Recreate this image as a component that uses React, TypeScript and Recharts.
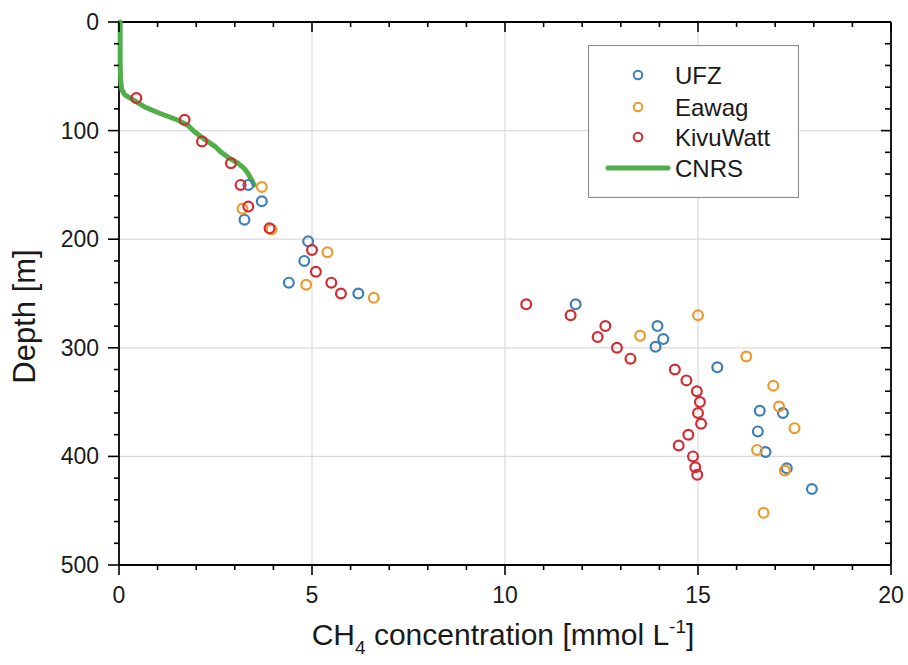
import React from 'react';
import { ScatterChart, Scatter, XAxis, YAxis, CartesianGrid, Legend } from 'recharts';

const FONT = '"Liberation Sans", Arial, sans-serif';

const seriesNames = ['UFZ', 'Eawag', 'KivuWatt', 'CNRS'];
const seriesColors = ['#3d7fb9', '#ec9a2e', '#d22b33', '#52ae4b'];

// UFZ profile
const ufzConc = [3.35, 3.7, 3.25, 4.9, 4.8, 4.4, 6.2, 11.83, 13.95, 14.1, 13.9, 15.5, 16.6, 17.2, 16.55, 16.75, 17.3, 17.95];
const ufzDepth = [150, 165, 182, 202, 220, 240, 250, 260, 280, 292, 299, 318, 358, 360, 377, 396, 411, 430];

// Eawag profile
const eawagConc = [3.7, 3.2, 3.95, 5.4, 4.85, 6.6, 15.0, 13.5, 16.25, 16.95, 17.1, 17.5, 16.53, 17.25, 16.7];
const eawagDepth = [152, 172, 191, 212, 242, 254, 270, 289, 308, 335, 354, 374, 394, 413, 452];

// KivuWatt profile
const kwConc = [0.45, 1.7, 2.15, 2.9, 3.15, 3.35, 3.9, 5.0, 5.1, 5.5, 5.75, 10.55, 11.7, 12.6, 12.4, 12.9, 13.25, 14.4, 14.7, 14.97, 15.05, 15.0, 15.08, 14.75, 14.5, 14.87, 14.93, 14.98];
const kwDepth = [70, 90, 110, 130, 150, 170, 190, 210, 230, 240, 250, 260, 270, 280, 290, 300, 310, 320, 330, 340, 350, 360, 370, 380, 390, 400, 410, 417];

// CNRS continuous profile
const cnrsConc = [0.03, 0.03, 0.03, 0.03, 0.03, 0.04, 0.05, 0.06, 0.08, 0.15, 0.38, 0.65, 1.05, 1.5, 1.78, 1.92, 2.1, 2.3, 2.5, 2.65, 2.84, 3.08, 3.25, 3.35, 3.43, 3.5];
const cnrsDepth = [0, 10, 20, 30, 40, 50, 55, 60, 63, 67, 72, 78, 84, 90, 95, 100, 105, 110, 115, 120, 125, 130, 135, 140, 145, 150];

const xTicks = Array.from({ length: 21 }, (_, i) => i);
const yTicks = Array.from({ length: 26 }, (_, i) => i * 20);

const zip = (xs: number[], ys: number[]) => xs.map((x, i) => ({ x, y: ys[i] }));

const ufzData = zip(ufzConc, ufzDepth);
const eawagData = zip(eawagConc, eawagDepth);
const kwData = zip(kwConc, kwDepth);
const cnrsData = zip(cnrsConc, cnrsDepth);

const ringShape = (color: string) => (props: any) => (
    <circle cx={props.cx} cy={props.cy} r={4.9} fill="none" stroke={color} strokeWidth={2.2} />
);

const tickFont = { fontFamily: FONT, fontSize: 23, fill: '#1a1a1a' };

// ticks are drawn by hand: tickSize/tickMargin are 0, so x/y sit on the axis line
const BottomTick = (props: any) => {
    const { x, y, payload } = props;
    const major = payload.value % 5 === 0;
    return (
        <g>
            <line x1={x} x2={x} y1={y} y2={y + (major ? 10 : 5)} stroke="#000" strokeWidth={1.6} />
            {major && (
                <text x={x} y={y + 30} textAnchor="middle" dominantBaseline="central" {...tickFont}>
                    {payload.value}
                </text>
            )}
        </g>
    );
};

const TopTick = (props: any) => {
    const { x, y, payload } = props;
    const major = payload.value % 5 === 0;
    return <line x1={x} x2={x} y1={y} y2={y + (major ? 10 : 5)} stroke="#000" strokeWidth={1.6} />;
};

const LeftTick = (props: any) => {
    const { x, y, payload } = props;
    const major = payload.value % 100 === 0;
    return (
        <g>
            <line x1={x - (major ? 11 : 5)} x2={x} y1={y} y2={y} stroke="#000" strokeWidth={1.6} />
            {major && (
                <text x={x - 20} y={y} textAnchor="end" dominantBaseline="central" {...tickFont}>
                    {payload.value}
                </text>
            )}
        </g>
    );
};

const RightTick = (props: any) => {
    const { x, y, payload } = props;
    const major = payload.value % 100 === 0;
    return <line x1={x - (major ? 10 : 6)} x2={x} y1={y} y2={y} stroke="#000" strokeWidth={1.6} />;
};

const XTitle = (props: any) => {
    const vb = props.viewBox;
    const cx = vb.x + vb.width / 2 - 2;
    const y = vb.y + 80;
    return (
        <text x={cx} y={y} textAnchor="middle" fontFamily={FONT} fontSize={30} fill="#1a1a1a">
            CH
            <tspan fontSize={19} dy={9}>4</tspan>
            <tspan dy={-9}> concentration [mmol L</tspan>
            <tspan fontSize={19} dy={-12}>-1</tspan>
            <tspan dy={12}>]</tspan>
        </text>
    );
};

const YTitle = (props: any) => {
    const vb = props.viewBox;
    const x = vb.x + 35;
    const y = vb.y + vb.height / 2 + 23;
    return (
        <text x={x} y={y} transform={`rotate(-90, ${x}, ${y})`} textAnchor="middle" fontFamily={FONT} fontSize={31} fill="#1a1a1a">
            Depth [m]
        </text>
    );
};

const renderLegend = () => {
    const rows = [30, 62, 92, 123];
    return (
        <svg width={211} height={153} style={{ display: 'block' }}>
            <rect x={0.5} y={0.5} width={210} height={152} fill="#fff" stroke="#8c8c8c" strokeWidth={1.2} />
            {seriesNames.map((name, i) => (
                <g key={name}>
                    {name === 'CNRS' ? (
                        <line x1={20} x2={80} y1={rows[i]} y2={rows[i]} stroke={seriesColors[i]} strokeWidth={5} strokeLinecap="round" />
                    ) : (
                        <circle cx={50} cy={rows[i]} r={4.3} fill="none" stroke={seriesColors[i]} strokeWidth={2} />
                    )}
                    <text x={87} y={rows[i]} dominantBaseline="central" fontFamily={FONT} fontSize={24} fill="#1a1a1a">
                        {name}
                    </text>
                </g>
            ))}
        </svg>
    );
};

export default function App() {
    return (
        <div style={{ position: 'absolute', left: 0, top: 0, width: 908, height: 665, background: '#fff' }}>
            <ScatterChart width={908} height={665} margin={{ top: 21, right: 16, left: 0, bottom: 0 }}>
                <CartesianGrid
                    verticalValues={[5, 10, 15]}
                    horizontalValues={[100, 200, 300, 400]}
                    stroke="#dadada"
                    strokeWidth={1.2}
                />
                <XAxis
                    type="number"
                    dataKey="x"
                    domain={[0, 20]}
                    ticks={xTicks}
                    interval={0}
                    height={100}
                    tickSize={0}
                    tickMargin={0}
                    tickLine={false}
                    tick={<BottomTick />}
                    axisLine={{ stroke: '#000', strokeWidth: 1.8 }}
                    label={{ content: (p: any) => <XTitle {...p} /> }}
                />
                <XAxis
                    xAxisId="top"
                    orientation="top"
                    type="number"
                    dataKey="x"
                    domain={[0, 20]}
                    allowDataOverflow
                    ticks={xTicks}
                    interval={0}
                    height={1}
                    tickSize={0}
                    tickMargin={0}
                    tickLine={false}
                    tick={<TopTick />}
                    axisLine={{ stroke: '#000', strokeWidth: 1.8 }}
                />
                <YAxis
                    type="number"
                    dataKey="y"
                    domain={[0, 500]}
                    reversed
                    ticks={yTicks}
                    interval={0}
                    width={119}
                    tickSize={0}
                    tickMargin={0}
                    tickLine={false}
                    tick={<LeftTick />}
                    axisLine={{ stroke: '#000', strokeWidth: 1.8 }}
                    label={{ content: (p: any) => <YTitle {...p} /> }}
                />
                <YAxis
                    yAxisId="right"
                    orientation="right"
                    type="number"
                    dataKey="y"
                    domain={[0, 500]}
                    allowDataOverflow
                    reversed
                    ticks={yTicks}
                    interval={0}
                    width={1}
                    tickSize={0}
                    tickMargin={0}
                    tickLine={false}
                    tick={<RightTick />}
                    axisLine={{ stroke: '#000', strokeWidth: 1.8 }}
                />
                <Legend
                    layout="vertical"
                    align="center"
                    verticalAlign="middle"
                    content={renderLegend}
                    wrapperStyle={{ position: 'absolute', left: 588, top: 45, width: 211, height: 153 }}
                />
                <Scatter
                    name="CNRS"
                    data={cnrsData}
                    fill={seriesColors[3]}
                    line={{ stroke: seriesColors[3], strokeWidth: 5, strokeLinejoin: 'round', strokeLinecap: 'round' }}
                    shape={() => <g />}
                    isAnimationActive={false}
                />
                <Scatter name="UFZ" data={ufzData} shape={ringShape(seriesColors[0])} isAnimationActive={false} />
                <Scatter name="Eawag" data={eawagData} shape={ringShape(seriesColors[1])} isAnimationActive={false} />
                <Scatter name="KivuWatt" data={kwData} shape={ringShape(seriesColors[2])} isAnimationActive={false} />
            </ScatterChart>
        </div>
    );
}
